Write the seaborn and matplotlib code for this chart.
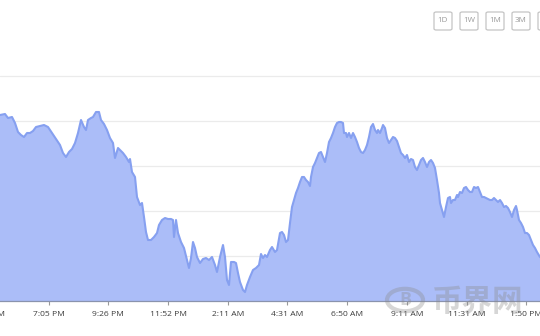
import numpy as np
import pandas as pd
import matplotlib
matplotlib.use("Agg")
import matplotlib.pyplot as plt
from matplotlib.patches import FancyBboxPatch, Circle
import seaborn as sns

# ---- data ----
t = [0, 5, 8, 12, 15, 18, 21, 24, 27, 30, 33, 36, 40, 44, 48, 52, 56, 60, 63, 66,
     69, 72, 75, 78, 81, 84, 86, 88, 91, 93, 96, 99, 101, 104, 107, 110, 113, 115, 118, 120,
     123, 126, 129, 130, 132, 135, 137, 140, 142, 144, 146, 148, 151, 154, 157, 159, 162, 165, 168, 171,
     173, 174, 176, 178, 181, 184, 187, 189, 191, 193, 195, 197, 200, 203, 206, 209, 212, 215, 217, 220,
     223, 225, 227, 229, 231, 234, 236, 238, 240, 243, 245, 247, 250, 253, 256, 259, 261, 263, 265, 267,
     270, 272, 275, 277, 280, 282, 284, 286, 288, 290, 292, 294, 296, 298, 300, 302, 304, 306, 308, 310,
     311, 313, 315, 317, 319, 321, 323, 325, 327, 329, 331, 333, 335, 337, 339, 341, 343, 344, 346, 347,
     349, 351, 353, 355, 357, 359, 361, 363, 365, 367, 369, 371, 373, 375, 377, 378, 380, 382, 383, 385,
     387, 389, 391, 393, 395, 397, 399, 401, 403, 405, 407, 409, 411, 413, 415, 417, 419, 421, 423, 425,
     427, 429, 431, 433, 435, 437, 439, 440, 442, 444, 446, 448, 450, 451, 453, 455, 457, 458, 460, 462,
     464, 466, 468, 470, 472, 474, 476, 478, 480, 482, 484, 486, 488, 490, 492, 494, 496, 498, 500, 502,
     504, 506, 508, 510, 512, 514, 516, 517, 519, 521, 523, 525, 527, 529, 531, 533, 535, 537, 540]
price = [186, 187, 183, 184, 178, 169, 166, 164, 168, 168, 170, 174, 175, 176, 174, 168, 162, 156, 148, 144,
         149, 152, 158, 168, 181, 174, 171, 181, 183, 184, 189, 189, 181, 177, 171, 163, 158, 143, 153, 151,
         148, 144, 139, 142, 129, 124, 104, 96, 98, 84, 69, 61, 61, 64, 68, 76, 81, 83, 82, 82,
         81, 64, 81, 68, 59, 53, 41, 33, 43, 59, 53, 44, 38, 42, 43, 41, 44, 36, 29, 44,
         56, 44, 21, 16, 39, 39, 38, 28, 19, 11, 9, 16, 24, 31, 33, 36, 47, 43, 46, 44,
         51, 54, 49, 51, 68, 69, 66, 59, 61, 78, 94, 101, 108, 113, 119, 124, 124, 121, 119, 115,
         124, 134, 138, 143, 148, 149, 144, 139, 148, 159, 163, 168, 174, 178, 179, 179, 178, 168, 168, 164,
         168, 163, 168, 164, 159, 153, 149, 148, 151, 156, 164, 174, 177, 171, 168, 171, 168, 173, 176, 173,
         163, 158, 161, 164, 163, 160, 154, 148, 146, 143, 146, 139, 142, 141, 134, 131, 136, 141, 143, 139,
         134, 139, 141, 138, 133, 121, 108, 98, 91, 84, 94, 103, 104, 98, 101, 101, 106, 104, 109, 108,
         113, 114, 111, 109, 109, 114, 113, 114, 109, 104, 104, 103, 102, 101, 101, 103, 101, 99, 101, 98,
         94, 95, 93, 89, 84, 91, 95, 91, 81, 78, 74, 68, 68, 66, 61, 56, 53, 49, 44]
tick_pos = [-11, 48.6, 108.3, 168, 227.7, 287.4, 347.1, 406.8, 466.5, 526.2]
tick_labels = ["4:45 PM", "7:05 PM", "9:26 PM", "11:52 PM", "2:11 AM", "4:31 AM",
               "6:50 AM", "9:11 AM", "11:31 AM", "1:50 PM"]
grid_levels = [45, 90, 135, 180, 225]
ranges = ["1D", "1W", "1M", "3M", "1Y"]

df = pd.DataFrame({"t": t, "price": price})

sns.set_theme(style="white")
plt.rcParams["font.family"] = ["Open Sans", "DejaVu Sans"]

fig = plt.figure(figsize=(5.4, 3.36), dpi=100)
ax = fig.add_axes([0, 35 / 336, 1, 270 / 336])

ax.fill_between(df["t"], df["price"], 0, color="#abbdf8", lw=0, zorder=2)
sns.lineplot(data=df, x="t", y="price", ax=ax, color="#86a0f0", lw=1.5, zorder=3)

ax.set_xlim(0, 540)
ax.set_ylim(0, 270)
ax.set_yticks(grid_levels)
ax.set_yticklabels([])
ax.tick_params(axis="y", length=0)
ax.grid(axis="y", color="#ebebeb", lw=0.9, zorder=1)
ax.grid(axis="x", visible=False)
ax.set_xlabel("")
ax.set_ylabel("")

vis = [(p, l) for p, l in zip(tick_pos, tick_labels) if 0 <= p <= 540]
ax.set_xticks([p for p, _ in vis])
ax.set_xticklabels([l for _, l in vis])
ax.tick_params(axis="x", length=3, width=0.8, color="#9a9a9a", pad=4,
               labelsize=6.1, labelcolor="#3d3d3d", bottom=True)
for p, l in zip(tick_pos, tick_labels):
    if p < 0:
        ax.annotate(l, xy=(p, 0), xycoords=("data", "axes fraction"),
                    xytext=(0, -7), textcoords="offset points",
                    ha="center", va="top", fontsize=6.1, color="#3d3d3d",
                    annotation_clip=False)

for s in ["top", "left", "right"]:
    ax.spines[s].set_visible(False)
ax.spines["bottom"].set_color("#8a93ad")
ax.spines["bottom"].set_linewidth(0.9)
ax.spines["bottom"].set_zorder(4)

# range buttons at top right
W, H = 540, 336
for i, r in enumerate(ranges):
    x0 = 434 + i * 26
    box = FancyBboxPatch((x0 / W, (H - 30) / H), 18 / W, 18 / H,
                         boxstyle="round,pad=0,rounding_size=0.004",
                         transform=fig.transFigure, fc="white", ec="#c4c4c4", lw=0.9)
    fig.patches.append(box)
    fig.text((x0 + 9) / W, (H - 21) / H, r, ha="center", va="center",
             fontsize=5.8, color="#9a9a9a")

# watermark
circ = Circle((405 / W, (H - 300) / H), 18 / W, transform=fig.transFigure,
              fill=False, ec="#8a8a8a", lw=3, alpha=0.35)
fig.patches.append(circ)
fig.text(405 / W, (H - 300) / H, "B", ha="center", va="center", fontsize=13,
         fontweight="bold", color="#8a8a8a", alpha=0.35)
fig.text(478 / W, (H - 302) / H, "币界网", ha="center", va="center", fontsize=22,
         fontweight="bold", color="#8a8a8a", alpha=0.35,
         family=["Noto Sans CJK SC", "DejaVu Sans"])

fig.savefig("out.png", dpi=100)
